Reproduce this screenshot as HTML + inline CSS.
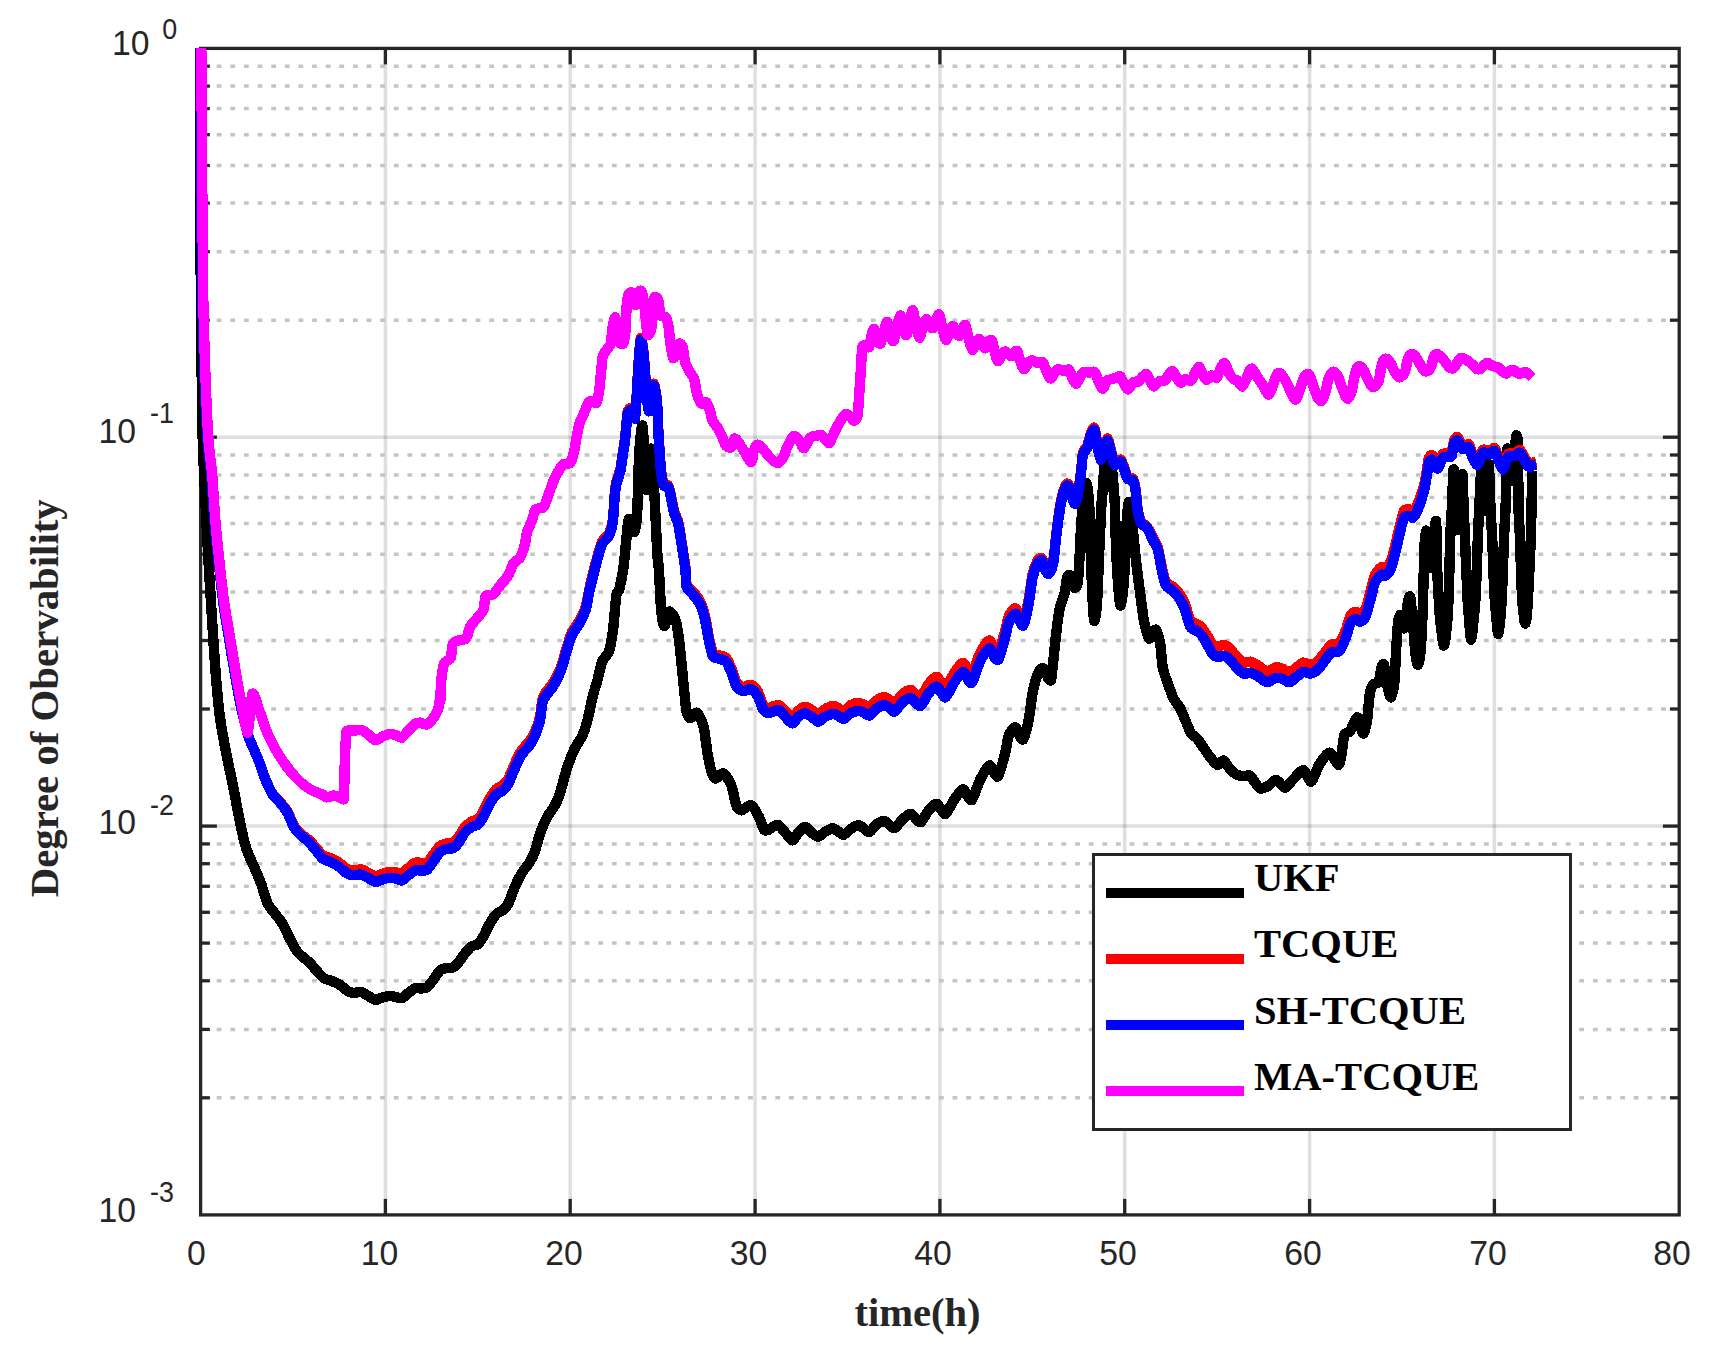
<!DOCTYPE html>
<html><head><meta charset="utf-8"><title>Degree of Observability</title>
<style>
html,body{margin:0;padding:0;background:#fff;}
body{width:1710px;height:1350px;overflow:hidden;}
svg{display:block;}
.tk{font-family:"Liberation Sans",Arial,sans-serif;font-size:35.9px;fill:#262626;}
.ex{font-family:"Liberation Sans",Arial,sans-serif;font-size:28.6px;fill:#262626;}
.lb{font-family:"Liberation Serif","Times New Roman",serif;font-weight:bold;fill:#262626;}
.lg{font-family:"Liberation Serif","Times New Roman",serif;font-weight:bold;font-size:40.6px;fill:#000;}
</style></head><body>
<svg width="1710" height="1350" viewBox="0 0 1710 1350">
<rect width="1710" height="1350" fill="#fff"/>
<defs><clipPath id="cp"><rect x="194.6" y="46.9" width="1490.6000000000001" height="1169.5"/></clipPath></defs>

<g id="grid">
<line x1="385.4" y1="48.4" x2="385.4" y2="1214.9" stroke="#262626" stroke-opacity="0.15" stroke-width="3.5"/>
<line x1="570.2" y1="48.4" x2="570.2" y2="1214.9" stroke="#262626" stroke-opacity="0.15" stroke-width="3.5"/>
<line x1="755.1" y1="48.4" x2="755.1" y2="1214.9" stroke="#262626" stroke-opacity="0.15" stroke-width="3.5"/>
<line x1="939.9" y1="48.4" x2="939.9" y2="1214.9" stroke="#262626" stroke-opacity="0.15" stroke-width="3.5"/>
<line x1="1124.7" y1="48.4" x2="1124.7" y2="1214.9" stroke="#262626" stroke-opacity="0.15" stroke-width="3.5"/>
<line x1="1309.6" y1="48.4" x2="1309.6" y2="1214.9" stroke="#262626" stroke-opacity="0.15" stroke-width="3.5"/>
<line x1="1494.4" y1="48.4" x2="1494.4" y2="1214.9" stroke="#262626" stroke-opacity="0.15" stroke-width="3.5"/>
<line x1="200.6" y1="437.2" x2="1679.2" y2="437.2" stroke="#262626" stroke-opacity="0.15" stroke-width="3.5"/>
<line x1="200.6" y1="826.1" x2="1679.2" y2="826.1" stroke="#262626" stroke-opacity="0.15" stroke-width="3.5"/>
<line x1="216.7" y1="320.2" x2="1667" y2="320.2" stroke="#c4c4c4" stroke-width="3.5" stroke-dasharray="4.8 8.826"/>
<line x1="216.7" y1="251.7" x2="1667" y2="251.7" stroke="#c4c4c4" stroke-width="3.5" stroke-dasharray="4.8 8.826"/>
<line x1="216.7" y1="203.1" x2="1667" y2="203.1" stroke="#c4c4c4" stroke-width="3.5" stroke-dasharray="4.8 8.826"/>
<line x1="216.7" y1="165.5" x2="1667" y2="165.5" stroke="#c4c4c4" stroke-width="3.5" stroke-dasharray="4.8 8.826"/>
<line x1="216.7" y1="134.7" x2="1667" y2="134.7" stroke="#c4c4c4" stroke-width="3.5" stroke-dasharray="4.8 8.826"/>
<line x1="216.7" y1="108.6" x2="1667" y2="108.6" stroke="#c4c4c4" stroke-width="3.5" stroke-dasharray="4.8 8.826"/>
<line x1="216.7" y1="86.1" x2="1667" y2="86.1" stroke="#c4c4c4" stroke-width="3.5" stroke-dasharray="4.8 8.826"/>
<line x1="216.7" y1="66.2" x2="1667" y2="66.2" stroke="#c4c4c4" stroke-width="3.5" stroke-dasharray="4.8 8.826"/>
<line x1="216.7" y1="709.0" x2="1667" y2="709.0" stroke="#c4c4c4" stroke-width="3.5" stroke-dasharray="4.8 8.826"/>
<line x1="216.7" y1="640.5" x2="1667" y2="640.5" stroke="#c4c4c4" stroke-width="3.5" stroke-dasharray="4.8 8.826"/>
<line x1="216.7" y1="592.0" x2="1667" y2="592.0" stroke="#c4c4c4" stroke-width="3.5" stroke-dasharray="4.8 8.826"/>
<line x1="216.7" y1="554.3" x2="1667" y2="554.3" stroke="#c4c4c4" stroke-width="3.5" stroke-dasharray="4.8 8.826"/>
<line x1="216.7" y1="523.5" x2="1667" y2="523.5" stroke="#c4c4c4" stroke-width="3.5" stroke-dasharray="4.8 8.826"/>
<line x1="216.7" y1="497.5" x2="1667" y2="497.5" stroke="#c4c4c4" stroke-width="3.5" stroke-dasharray="4.8 8.826"/>
<line x1="216.7" y1="474.9" x2="1667" y2="474.9" stroke="#c4c4c4" stroke-width="3.5" stroke-dasharray="4.8 8.826"/>
<line x1="216.7" y1="455.0" x2="1667" y2="455.0" stroke="#c4c4c4" stroke-width="3.5" stroke-dasharray="4.8 8.826"/>
<line x1="216.7" y1="1097.8" x2="1667" y2="1097.8" stroke="#c4c4c4" stroke-width="3.5" stroke-dasharray="4.8 8.826"/>
<line x1="216.7" y1="1029.4" x2="1667" y2="1029.4" stroke="#c4c4c4" stroke-width="3.5" stroke-dasharray="4.8 8.826"/>
<line x1="216.7" y1="980.8" x2="1667" y2="980.8" stroke="#c4c4c4" stroke-width="3.5" stroke-dasharray="4.8 8.826"/>
<line x1="216.7" y1="943.1" x2="1667" y2="943.1" stroke="#c4c4c4" stroke-width="3.5" stroke-dasharray="4.8 8.826"/>
<line x1="216.7" y1="912.3" x2="1667" y2="912.3" stroke="#c4c4c4" stroke-width="3.5" stroke-dasharray="4.8 8.826"/>
<line x1="216.7" y1="886.3" x2="1667" y2="886.3" stroke="#c4c4c4" stroke-width="3.5" stroke-dasharray="4.8 8.826"/>
<line x1="216.7" y1="863.7" x2="1667" y2="863.7" stroke="#c4c4c4" stroke-width="3.5" stroke-dasharray="4.8 8.826"/>
<line x1="216.7" y1="843.9" x2="1667" y2="843.9" stroke="#c4c4c4" stroke-width="3.5" stroke-dasharray="4.8 8.826"/>
</g>
<g id="axes" stroke="#262626" stroke-width="3.3" fill="none">
<rect x="200.6" y="48.4" width="1478.6000000000001" height="1166.5"/>
<line x1="385.4" y1="1214.9" x2="385.4" y2="1198.9"/>
<line x1="385.4" y1="48.4" x2="385.4" y2="64.4"/>
<line x1="570.2" y1="1214.9" x2="570.2" y2="1198.9"/>
<line x1="570.2" y1="48.4" x2="570.2" y2="64.4"/>
<line x1="755.1" y1="1214.9" x2="755.1" y2="1198.9"/>
<line x1="755.1" y1="48.4" x2="755.1" y2="64.4"/>
<line x1="939.9" y1="1214.9" x2="939.9" y2="1198.9"/>
<line x1="939.9" y1="48.4" x2="939.9" y2="64.4"/>
<line x1="1124.7" y1="1214.9" x2="1124.7" y2="1198.9"/>
<line x1="1124.7" y1="48.4" x2="1124.7" y2="64.4"/>
<line x1="1309.6" y1="1214.9" x2="1309.6" y2="1198.9"/>
<line x1="1309.6" y1="48.4" x2="1309.6" y2="64.4"/>
<line x1="1494.4" y1="1214.9" x2="1494.4" y2="1198.9"/>
<line x1="1494.4" y1="48.4" x2="1494.4" y2="64.4"/>
<line x1="200.6" y1="437.2" x2="216.9" y2="437.2"/>
<line x1="1679.2" y1="437.2" x2="1662.9" y2="437.2"/>
<line x1="200.6" y1="826.1" x2="216.9" y2="826.1"/>
<line x1="1679.2" y1="826.1" x2="1662.9" y2="826.1"/>
<line x1="200.6" y1="320.2" x2="209.9" y2="320.2"/>
<line x1="1679.2" y1="320.2" x2="1669.9" y2="320.2"/>
<line x1="200.6" y1="251.7" x2="209.9" y2="251.7"/>
<line x1="1679.2" y1="251.7" x2="1669.9" y2="251.7"/>
<line x1="200.6" y1="203.1" x2="209.9" y2="203.1"/>
<line x1="1679.2" y1="203.1" x2="1669.9" y2="203.1"/>
<line x1="200.6" y1="165.5" x2="209.9" y2="165.5"/>
<line x1="1679.2" y1="165.5" x2="1669.9" y2="165.5"/>
<line x1="200.6" y1="134.7" x2="209.9" y2="134.7"/>
<line x1="1679.2" y1="134.7" x2="1669.9" y2="134.7"/>
<line x1="200.6" y1="108.6" x2="209.9" y2="108.6"/>
<line x1="1679.2" y1="108.6" x2="1669.9" y2="108.6"/>
<line x1="200.6" y1="86.1" x2="209.9" y2="86.1"/>
<line x1="1679.2" y1="86.1" x2="1669.9" y2="86.1"/>
<line x1="200.6" y1="66.2" x2="209.9" y2="66.2"/>
<line x1="1679.2" y1="66.2" x2="1669.9" y2="66.2"/>
<line x1="200.6" y1="709.0" x2="209.9" y2="709.0"/>
<line x1="1679.2" y1="709.0" x2="1669.9" y2="709.0"/>
<line x1="200.6" y1="640.5" x2="209.9" y2="640.5"/>
<line x1="1679.2" y1="640.5" x2="1669.9" y2="640.5"/>
<line x1="200.6" y1="592.0" x2="209.9" y2="592.0"/>
<line x1="1679.2" y1="592.0" x2="1669.9" y2="592.0"/>
<line x1="200.6" y1="554.3" x2="209.9" y2="554.3"/>
<line x1="1679.2" y1="554.3" x2="1669.9" y2="554.3"/>
<line x1="200.6" y1="523.5" x2="209.9" y2="523.5"/>
<line x1="1679.2" y1="523.5" x2="1669.9" y2="523.5"/>
<line x1="200.6" y1="497.5" x2="209.9" y2="497.5"/>
<line x1="1679.2" y1="497.5" x2="1669.9" y2="497.5"/>
<line x1="200.6" y1="474.9" x2="209.9" y2="474.9"/>
<line x1="1679.2" y1="474.9" x2="1669.9" y2="474.9"/>
<line x1="200.6" y1="455.0" x2="209.9" y2="455.0"/>
<line x1="1679.2" y1="455.0" x2="1669.9" y2="455.0"/>
<line x1="200.6" y1="1097.8" x2="209.9" y2="1097.8"/>
<line x1="1679.2" y1="1097.8" x2="1669.9" y2="1097.8"/>
<line x1="200.6" y1="1029.4" x2="209.9" y2="1029.4"/>
<line x1="1679.2" y1="1029.4" x2="1669.9" y2="1029.4"/>
<line x1="200.6" y1="980.8" x2="209.9" y2="980.8"/>
<line x1="1679.2" y1="980.8" x2="1669.9" y2="980.8"/>
<line x1="200.6" y1="943.1" x2="209.9" y2="943.1"/>
<line x1="1679.2" y1="943.1" x2="1669.9" y2="943.1"/>
<line x1="200.6" y1="912.3" x2="209.9" y2="912.3"/>
<line x1="1679.2" y1="912.3" x2="1669.9" y2="912.3"/>
<line x1="200.6" y1="886.3" x2="209.9" y2="886.3"/>
<line x1="1679.2" y1="886.3" x2="1669.9" y2="886.3"/>
<line x1="200.6" y1="863.7" x2="209.9" y2="863.7"/>
<line x1="1679.2" y1="863.7" x2="1669.9" y2="863.7"/>
<line x1="200.6" y1="843.9" x2="209.9" y2="843.9"/>
<line x1="1679.2" y1="843.9" x2="1669.9" y2="843.9"/>
</g>
<g id="curves" shape-rendering="crispEdges" clip-path="url(#cp)" fill="none" stroke-width="10.4" stroke-linejoin="round" stroke-linecap="butt">
<path stroke="#000000" d="M200.0 48.4 C200.0 61.9 200.2 116.5 200.3 150.0 C200.4 183.5 200.6 268.2 200.8 300.0 C201.1 337.3 202.0 404.8 202.5 430.0 C203.0 455.2 204.1 473.5 204.8 489.3 C205.5 505.1 206.9 532.8 207.8 548.6 C208.7 564.4 210.3 592.1 211.3 607.9 C212.3 623.7 214.1 653.0 215.2 667.2 C216.3 681.4 218.2 703.5 219.6 714.6 C221.0 725.7 223.8 740.7 225.6 750.2 C227.4 759.7 231.0 775.8 233.0 785.7 C235.0 795.6 238.6 815.8 240.4 824.3 C242.2 832.8 244.7 843.7 246.6 849.5 C248.5 855.3 252.6 863.3 254.5 867.9 C256.4 872.5 259.4 879.0 261.1 883.7 C262.8 888.4 265.9 899.5 267.6 903.4 C269.3 907.3 272.3 910.0 274.2 912.6 C276.1 915.2 280.0 919.7 282.1 923.2 C284.2 926.7 288.1 935.2 290.0 938.9 C291.9 942.6 294.8 948.3 296.6 950.8 C298.4 953.3 301.5 955.8 303.2 957.4 C304.9 959.0 308.0 960.9 309.7 962.6 C311.4 964.3 314.4 968.4 316.3 970.5 C318.2 972.6 322.1 977.0 324.2 978.4 C326.3 979.8 330.0 980.2 332.1 981.1 C334.2 982.0 337.9 983.7 340.0 985.0 C342.1 986.3 346.1 990.0 347.9 991.1 C349.7 992.2 351.4 992.8 353.2 992.9 C355.0 993.0 359.0 991.6 361.1 992.1 C363.2 992.6 367.0 995.2 368.9 996.3 C370.8 997.4 373.7 999.8 375.5 1000.0 C377.3 1000.2 380.3 998.1 382.1 997.6 C383.9 997.1 386.9 996.2 388.7 996.1 C390.5 996.0 393.6 996.5 395.3 996.8 C397.0 997.1 400.1 998.7 401.8 998.2 C403.5 997.7 406.6 994.2 408.4 992.9 C410.2 991.6 413.2 989.0 415.0 988.4 C416.8 987.8 420.0 988.5 421.6 988.4 C423.2 988.3 425.4 988.6 426.8 987.6 C428.4 986.4 431.6 982.0 433.4 979.7 C435.2 977.4 438.2 972.1 440.0 970.5 C441.8 968.9 444.8 968.3 446.6 967.9 C448.4 967.5 451.6 968.1 453.2 967.4 C454.8 966.7 456.8 964.5 458.4 962.6 C460.0 960.7 463.2 955.6 465.0 953.4 C466.8 951.2 469.8 947.5 471.6 946.3 C473.4 945.1 476.6 945.5 478.2 944.2 C479.8 942.9 481.8 939.1 483.4 936.3 C485.0 933.5 488.2 926.2 490.0 923.2 C491.8 920.2 494.8 915.7 496.6 913.9 C498.4 912.1 501.6 911.4 503.2 910.0 C504.8 908.6 506.8 906.6 508.4 903.4 C510.0 900.2 513.2 890.3 515.0 886.3 C516.8 882.3 519.7 876.4 521.6 873.2 C523.5 870.0 527.8 865.4 529.5 862.6 C531.2 859.8 533.3 856.0 534.7 852.1 C536.1 848.2 538.4 838.3 540.0 833.7 C541.6 829.1 544.7 821.6 546.6 817.9 C548.5 814.2 552.8 809.3 554.5 806.1 C556.2 802.9 558.1 798.9 559.7 794.2 C561.3 789.5 564.4 776.5 566.3 770.5 C568.2 764.5 572.1 754.1 574.2 749.5 C576.3 744.9 580.3 740.2 582.1 736.3 C583.9 732.4 586.0 725.8 587.4 720.5 C588.8 715.2 591.3 702.1 592.6 696.8 C593.9 691.5 596.0 685.5 597.3 680.8 C598.6 676.1 600.6 665.5 602.1 661.6 C603.6 657.7 607.4 655.8 608.8 651.9 C610.2 648.0 611.9 637.8 612.7 632.7 C613.5 627.6 614.1 618.5 614.6 613.4 C615.1 608.3 615.9 597.2 616.5 594.1 C617.0 591.5 618.4 592.6 619.1 590.0 C620.0 586.6 622.4 574.5 623.3 568.9 C624.2 563.3 625.0 552.5 625.5 547.8 C626.0 543.1 626.5 537.6 626.9 533.7 C627.3 529.8 628.0 519.8 628.7 518.9 C629.4 518.0 631.1 525.0 631.8 526.7 C632.5 528.4 633.6 532.9 634.3 532.0 C635.0 531.1 636.2 524.1 636.7 519.6 C637.2 515.1 637.5 505.1 637.7 498.5 C637.9 491.9 638.2 477.9 638.5 470.4 C638.8 462.9 639.6 447.8 640.0 442.2 C640.4 436.6 641.3 430.4 641.6 428.2 C641.9 426.5 642.2 424.3 642.5 426.0 C642.8 427.9 643.5 437.2 643.9 442.2 C644.3 447.2 644.9 456.9 645.3 463.3 C645.7 469.7 646.5 490.1 647.0 490.1 C647.5 490.1 648.4 468.8 649.0 463.3 C649.6 457.8 650.7 447.7 651.2 448.6 C651.7 449.5 652.4 463.7 652.9 470.4 C653.4 477.1 654.2 491.0 654.6 498.5 C655.0 506.0 655.6 519.2 656.0 526.7 C656.4 534.2 657.0 549.1 657.4 554.8 C657.8 560.5 658.4 562.3 658.9 569.5 C659.4 576.7 660.4 601.4 661.1 608.9 C661.8 616.4 663.1 625.7 664.2 626.1 C665.3 626.5 667.9 612.1 669.5 611.6 C671.1 611.1 674.7 617.2 676.1 622.1 C677.5 627.0 679.0 639.6 680.0 648.4 C681.0 657.2 683.0 679.5 683.9 687.9 C684.8 696.3 685.7 707.6 686.6 711.6 C687.4 715.5 689.1 718.0 690.5 718.2 C691.9 718.4 695.3 711.7 697.1 712.9 C698.9 714.1 702.3 722.0 703.7 727.4 C705.1 732.8 706.5 747.7 707.6 753.7 C708.7 759.7 710.5 768.8 711.6 772.1 C712.7 775.4 713.9 778.5 715.5 778.7 C717.1 778.9 721.3 772.5 723.4 773.4 C725.5 774.3 729.5 780.9 731.3 785.3 C733.1 789.7 735.2 803.0 736.6 806.3 C737.7 808.9 739.9 810.5 741.8 810.3 C743.7 810.1 748.8 804.1 751.1 805.0 C753.4 805.9 757.2 813.5 758.9 816.8 C760.6 820.1 763.0 828.2 764.2 830.0 C764.6 830.6 766.7 830.6 768.2 830.0 C770.0 829.3 775.1 824.4 777.4 824.7 C779.7 825.0 783.3 830.5 785.3 832.6 C787.3 834.7 790.7 840.5 792.4 840.5 C794.1 840.5 796.7 834.4 798.4 832.6 C800.1 830.8 803.2 826.8 805.0 826.8 C806.8 826.8 809.8 831.3 811.6 832.6 C813.4 833.9 816.5 836.7 818.2 836.6 C819.9 836.5 822.8 833.2 824.7 832.1 C826.6 831.0 830.8 828.3 832.6 828.2 C834.4 828.1 836.4 830.4 837.9 831.3 C839.4 832.2 841.9 835.0 843.7 834.7 C845.5 834.4 849.1 830.0 851.1 828.7 C853.1 827.4 857.2 825.3 858.9 825.3 C860.6 825.3 862.8 827.8 864.2 828.7 C865.6 829.6 867.9 832.6 869.5 832.1 C871.1 831.6 874.2 826.2 876.1 824.7 C878.0 823.2 882.2 820.8 883.9 820.8 C885.6 820.8 887.8 823.7 889.2 824.7 C890.6 825.7 892.7 828.9 894.5 828.2 C896.3 827.5 900.3 821.4 902.4 819.5 C904.5 817.6 908.6 813.9 910.3 813.7 C912.0 813.5 914.1 817.1 915.5 818.2 C916.9 819.3 919.0 823.2 920.8 822.1 C922.6 821.0 926.6 812.8 928.7 810.3 C930.8 807.8 934.9 803.7 936.6 803.7 C938.3 803.7 940.6 809.0 941.8 810.3 C943.0 811.6 944.0 815.3 945.8 813.7 C947.6 812.1 952.7 801.7 955.0 798.4 C957.3 795.1 961.1 789.4 962.9 789.2 C964.7 789.0 967.0 795.7 968.2 797.1 C969.4 798.5 970.8 801.6 972.1 799.7 C973.7 797.4 977.7 784.6 980.0 780.0 C982.3 775.4 987.3 766.4 989.2 765.5 C991.1 764.6 993.3 772.0 994.5 773.4 C995.7 774.8 997.4 778.1 998.4 776.1 C999.8 773.5 1003.6 759.1 1005.0 753.7 C1006.4 748.3 1007.5 738.8 1008.9 735.3 C1010.3 731.8 1013.9 727.1 1015.5 727.4 C1017.1 727.7 1019.7 736.3 1020.8 737.9 C1021.6 739.1 1022.9 740.5 1023.4 739.2 C1024.5 736.7 1027.5 725.6 1028.7 719.5 C1029.9 713.4 1031.4 699.3 1032.6 693.2 C1033.8 687.1 1036.5 676.7 1037.9 673.4 C1039.3 670.2 1041.8 667.5 1043.2 668.2 C1044.6 668.9 1047.3 677.1 1048.4 678.7 C1049.2 680.0 1050.9 681.2 1051.1 680.0 C1052.1 674.4 1054.7 646.3 1055.8 637.0 C1056.9 627.7 1058.1 616.5 1059.3 610.6 C1060.5 604.7 1063.5 597.5 1064.6 593.1 C1065.7 588.7 1066.5 579.6 1067.2 577.3 C1067.6 575.8 1068.9 574.1 1069.8 575.5 C1070.7 576.9 1073.1 586.9 1074.2 587.8 C1075.3 588.7 1077.1 585.8 1077.7 582.6 C1078.4 578.6 1079.0 566.0 1079.5 558.0 C1080.0 550.0 1080.7 531.8 1081.3 522.9 C1081.9 514.0 1083.2 496.6 1083.9 491.3 C1084.5 486.8 1085.8 481.5 1086.5 483.4 C1087.2 485.3 1088.6 495.4 1089.2 505.3 C1089.8 515.2 1090.4 545.1 1090.9 558.0 C1091.4 570.9 1092.2 593.5 1092.7 601.9 C1093.2 610.3 1093.8 621.2 1094.4 621.2 C1095.0 621.2 1096.4 612.1 1097.1 601.9 C1097.8 591.1 1099.1 553.3 1099.7 540.4 C1100.3 527.5 1101.0 512.0 1101.4 505.3 C1101.8 498.6 1102.4 494.5 1102.7 490.1 C1103.0 485.7 1103.6 475.8 1103.9 472.0 C1104.2 468.2 1104.8 461.6 1105.1 461.8 C1105.4 462.0 1106.0 470.4 1106.4 473.7 C1106.8 477.0 1107.4 486.9 1107.8 486.9 C1108.2 486.9 1108.8 477.0 1109.2 473.7 C1109.6 470.4 1110.3 462.0 1110.7 461.8 C1111.1 461.6 1111.9 468.2 1112.3 472.0 C1112.7 475.8 1113.5 485.2 1113.9 490.1 C1114.3 495.0 1114.7 502.1 1115.0 508.8 C1115.3 515.5 1115.4 530.7 1115.8 540.4 C1116.2 550.5 1117.4 575.6 1118.1 584.3 C1118.8 593.0 1119.9 606.6 1120.7 605.4 C1121.5 604.2 1123.6 585.3 1124.3 575.5 C1125.0 565.7 1125.4 541.5 1126.0 531.7 C1126.6 521.9 1127.8 503.0 1128.6 501.8 C1129.4 500.6 1131.3 515.4 1132.2 522.9 C1133.1 530.4 1134.6 548.6 1135.7 558.0 C1136.8 567.4 1139.0 584.9 1140.1 593.1 C1141.2 601.3 1143.1 615.9 1143.6 619.4 C1143.6 619.4 1143.6 619.2 1143.6 619.2 C1144.3 621.7 1147.2 637.1 1148.8 638.5 C1150.4 639.9 1154.4 629.0 1155.9 629.7 C1157.4 630.4 1159.3 638.6 1160.2 643.7 C1161.1 648.8 1161.8 662.9 1162.9 668.3 C1164.0 673.7 1166.7 680.1 1168.1 684.1 C1169.5 688.1 1171.8 694.8 1173.4 698.1 C1175.0 701.4 1178.8 705.6 1180.4 708.7 C1182.0 711.8 1184.3 717.7 1185.7 721.0 C1187.1 724.3 1189.5 731.0 1191.0 733.3 C1192.5 735.6 1195.5 736.6 1197.1 738.5 C1198.7 740.4 1201.7 745.0 1203.3 747.3 C1204.9 749.6 1207.5 753.8 1209.4 756.1 C1211.3 758.4 1215.4 764.3 1217.3 764.9 C1219.2 765.5 1221.8 760.0 1223.4 760.5 C1225.0 761.0 1228.1 766.7 1229.6 768.4 C1231.1 770.1 1233.0 772.5 1234.9 773.6 C1236.8 774.7 1241.6 776.1 1243.6 776.3 C1245.6 776.5 1248.3 774.6 1249.8 775.4 C1251.3 776.2 1253.6 780.7 1255.0 782.4 C1256.4 784.1 1258.5 788.0 1260.3 788.5 C1262.1 789.0 1266.1 787.1 1268.2 785.9 C1270.3 784.7 1273.9 779.6 1276.1 779.8 C1278.3 780.0 1282.7 787.7 1284.9 787.7 C1287.1 787.7 1290.3 782.1 1292.8 779.8 C1295.3 777.5 1300.8 769.9 1303.3 770.1 C1305.8 770.3 1309.1 782.2 1311.2 781.5 C1313.3 780.8 1316.6 768.8 1319.1 764.9 C1321.6 761.0 1327.0 752.6 1329.6 752.6 C1332.2 752.6 1336.8 764.9 1338.4 764.9 C1340.0 764.9 1341.0 756.6 1341.8 752.6 C1342.6 748.6 1343.3 737.8 1344.4 735.0 C1345.3 732.6 1348.4 733.1 1349.7 731.5 C1351.0 729.9 1353.0 724.6 1354.1 722.7 C1355.2 720.8 1356.7 716.8 1357.6 717.5 C1358.5 718.2 1360.3 725.9 1361.1 728.0 C1361.9 730.1 1362.9 734.5 1363.7 733.3 C1364.5 732.1 1366.4 724.6 1367.2 719.2 C1368.0 713.8 1369.1 697.6 1369.9 692.9 C1370.7 688.2 1372.2 685.5 1373.4 684.1 C1374.6 682.7 1377.8 683.8 1378.6 682.3 C1379.7 680.2 1380.6 670.6 1381.3 668.3 C1382.0 666.0 1383.1 662.5 1383.9 664.8 C1384.7 667.1 1386.5 681.6 1387.4 685.9 C1388.3 690.2 1390.0 697.8 1390.9 697.3 C1391.8 696.8 1393.7 688.7 1394.4 682.3 C1395.1 675.9 1395.7 656.9 1396.2 649.0 C1396.7 641.1 1397.5 627.3 1398.0 622.7 C1398.5 618.1 1399.6 614.8 1400.2 614.8 C1400.8 614.8 1401.8 620.9 1402.3 622.7 C1402.8 624.5 1403.6 628.5 1404.1 628.3 C1404.6 628.1 1405.4 624.5 1405.9 620.9 C1406.4 617.3 1407.4 604.8 1408.0 601.6 C1408.5 598.8 1409.5 594.4 1410.2 597.2 C1410.9 600.0 1412.2 615.1 1412.9 622.7 C1413.6 630.3 1414.8 648.7 1415.5 654.3 C1416.2 659.9 1417.4 665.5 1418.1 664.8 C1418.8 664.1 1420.2 657.0 1420.8 649.0 C1421.4 641.0 1422.4 618.4 1422.9 605.1 C1423.4 591.8 1423.9 559.1 1424.3 549.2 C1424.7 539.4 1425.4 531.4 1426.0 530.8 C1426.6 530.2 1427.9 540.0 1428.6 545.0 C1429.3 550.0 1430.4 568.0 1431.0 568.0 C1431.6 568.0 1432.8 550.9 1433.4 545.0 C1434.0 539.1 1435.0 527.2 1435.3 524.0 C1435.5 522.0 1435.8 519.8 1436.0 521.3 C1436.2 522.8 1436.5 530.5 1436.6 535.0 C1436.7 539.5 1436.8 549.7 1436.9 555.0 C1437.0 560.3 1437.2 569.6 1437.4 575.0 C1437.8 582.7 1439.0 605.0 1439.6 613.0 C1440.2 621.0 1441.4 630.7 1442.0 635.0 C1442.6 639.3 1443.4 647.4 1444.1 645.3 C1444.8 643.2 1446.9 626.0 1447.5 618.9 C1448.1 611.8 1448.4 602.9 1448.8 592.2 C1449.2 581.5 1449.8 550.0 1450.2 538.9 C1450.6 527.8 1451.4 516.5 1451.8 508.9 C1452.2 501.3 1452.6 487.5 1452.9 482.2 C1453.2 476.9 1453.4 467.8 1453.8 469.5 C1454.2 471.2 1455.1 487.0 1455.6 495.0 C1456.1 503.0 1457.2 529.2 1457.8 529.6 C1458.4 530.0 1459.6 505.4 1460.2 498.0 C1460.8 490.6 1462.0 475.9 1462.4 474.3 C1462.7 473.0 1462.8 481.4 1463.0 486.0 C1463.2 490.6 1463.4 501.8 1463.7 508.9 C1464.0 516.0 1464.5 527.8 1465.0 538.9 C1465.5 550.0 1466.7 581.5 1467.2 592.2 C1467.7 602.9 1468.5 612.6 1469.0 618.9 C1469.5 625.2 1470.5 639.6 1471.1 639.6 C1471.7 639.6 1473.1 625.2 1473.7 618.9 C1474.3 612.6 1475.4 602.9 1475.9 592.2 C1476.4 581.5 1477.4 550.0 1477.8 538.9 C1478.2 527.8 1478.8 516.5 1479.2 508.9 C1479.6 501.3 1480.2 488.1 1480.5 482.2 C1480.8 476.3 1481.2 464.2 1481.6 465.0 C1482.0 465.8 1482.8 481.9 1483.2 488.0 C1483.6 494.1 1484.4 511.0 1484.9 511.0 C1485.4 511.0 1486.3 494.3 1486.8 488.0 C1487.3 481.7 1488.2 464.8 1488.6 464.0 C1489.0 463.2 1489.4 476.2 1489.7 482.2 C1490.0 488.2 1490.2 501.3 1490.5 508.9 C1490.8 516.5 1491.7 527.8 1492.2 538.9 C1492.7 550.0 1493.7 581.5 1494.3 592.2 C1494.9 602.9 1496.0 613.3 1496.5 618.9 C1497.0 624.5 1497.7 633.9 1498.2 633.9 C1498.7 633.9 1499.8 624.5 1500.3 618.9 C1500.8 613.3 1501.6 602.9 1502.1 592.2 C1502.6 581.5 1503.5 550.0 1504.0 538.9 C1504.5 527.8 1505.2 516.5 1505.5 508.9 C1505.8 501.3 1506.2 488.7 1506.3 482.2 C1506.4 475.7 1506.4 463.9 1506.6 460.0 C1506.8 455.5 1507.2 447.8 1507.6 448.5 C1508.0 449.2 1509.2 460.6 1509.8 465.0 C1510.4 469.4 1511.4 482.1 1512.0 481.2 C1512.6 480.3 1513.6 464.0 1514.2 458.0 C1514.8 452.0 1515.7 438.5 1516.2 436.1 C1516.7 433.7 1517.4 437.4 1517.6 440.0 C1517.9 443.2 1518.2 454.4 1518.3 460.0 C1518.3 460.0 1518.3 482.2 1518.3 482.2 C1518.3 488.7 1518.4 505.6 1518.5 508.9 C1518.7 516.5 1519.6 527.8 1520.0 538.9 C1520.4 550.0 1521.3 581.5 1521.8 592.2 C1522.3 602.9 1523.6 614.7 1524.1 618.9 C1524.4 621.9 1525.0 623.6 1525.3 623.6 C1525.6 623.6 1526.2 621.9 1526.5 618.9 C1526.9 614.7 1527.7 602.9 1528.3 592.2 C1528.9 581.5 1530.4 550.0 1530.8 538.9 C1531.2 529.8 1531.3 516.5 1531.5 508.9 C1531.7 501.3 1531.9 487.1 1532.0 482.0 C1532.1 476.9 1532.2 472.5 1532.2 471.0"/>
<path stroke="#ff0000" d="M200.3 48.4 C200.4 61.9 200.7 116.5 201.0 150.0 C201.3 183.5 201.7 269.2 202.3 300.0 C203.1 337.3 205.7 406.7 206.9 430.0 C208.1 452.9 210.3 462.6 211.3 474.5 C212.3 486.4 213.3 507.0 214.3 518.9 C215.3 530.8 217.6 552.3 218.8 563.4 C220.0 574.5 221.9 592.0 223.2 601.9 C224.5 611.8 227.3 628.0 228.8 637.5 C230.3 647.0 233.2 664.0 234.8 673.1 C236.4 682.2 239.0 697.8 240.7 705.7 C242.4 713.6 245.9 727.6 247.2 732.4 C248.5 737.2 249.0 737.9 250.5 741.6 C252.0 745.3 256.5 755.0 258.4 759.9 C260.3 764.8 263.2 773.8 265.0 778.1 C266.8 782.4 269.7 789.3 271.6 792.4 C273.5 795.5 277.4 798.8 279.5 801.3 C281.6 803.8 285.5 808.2 287.4 811.5 C289.3 814.8 292.2 822.9 293.9 825.8 C295.6 828.7 298.6 831.7 300.5 833.5 C302.4 835.3 306.3 837.6 308.4 839.5 C310.5 841.4 314.4 845.9 316.3 848.0 C318.2 850.1 321.0 854.0 322.9 855.4 C324.8 856.8 328.7 857.3 330.8 858.2 C332.9 859.1 336.6 861.0 338.7 862.4 C340.8 863.8 344.7 867.6 346.6 868.7 C348.5 869.8 351.3 870.4 353.2 870.5 C355.1 870.6 359.0 869.1 361.1 869.4 C363.2 869.7 367.0 872.2 368.9 873.1 C370.8 874.0 373.7 876.2 375.5 876.3 C377.3 876.4 380.3 874.5 382.1 873.9 C383.9 873.3 386.9 872.2 388.7 871.9 C390.5 871.6 393.6 871.8 395.3 872.0 C397.0 872.2 400.1 874.1 401.8 873.6 C403.5 873.1 406.6 869.4 408.4 868.0 C410.2 866.6 413.2 863.5 415.0 862.8 C416.5 862.2 420.0 862.8 421.6 862.8 C423.2 862.8 425.9 863.4 426.8 862.8 C428.4 861.7 431.6 856.9 433.4 854.7 C435.2 852.5 438.2 847.6 440.0 846.1 C441.8 844.6 444.8 843.8 446.6 843.3 C448.4 842.8 451.6 843.4 453.2 842.6 C454.8 841.8 456.8 839.5 458.4 837.4 C460.0 835.3 463.2 829.0 465.0 826.9 C466.8 824.8 469.8 822.7 471.6 821.6 C473.4 820.5 476.6 820.4 478.2 819.0 C479.8 817.6 481.8 813.9 483.4 811.1 C485.0 808.3 488.2 800.9 490.0 797.9 C491.8 794.9 494.8 790.4 496.6 788.7 C498.4 787.0 501.6 786.4 503.2 785.1 C504.8 783.8 506.8 781.6 508.4 778.7 C510.0 775.8 513.2 767.0 515.0 763.2 C516.8 759.4 519.7 753.2 521.6 750.3 C523.5 747.4 527.8 743.8 529.5 741.4 C531.2 739.0 533.3 735.8 534.7 732.5 C536.1 729.2 538.9 721.8 540.0 717.0 C541.1 712.2 541.6 700.9 543.3 696.6 C545.0 692.1 550.6 687.1 552.9 683.3 C555.2 679.5 558.9 672.6 560.7 668.0 C562.5 663.4 564.9 653.7 566.4 648.8 C567.9 643.9 570.4 635.4 572.2 631.6 C574.0 627.8 578.1 623.5 579.9 620.2 C581.7 616.9 584.4 611.2 585.7 606.9 C587.0 602.6 588.6 592.3 589.6 587.7 C590.6 583.1 592.4 576.5 593.4 572.4 C594.4 568.3 596.1 561.2 597.3 557.1 C598.5 553.0 600.6 544.8 602.1 541.7 C603.6 538.6 607.4 536.9 608.8 534.1 C610.2 531.3 611.9 525.8 612.7 520.7 C613.5 515.6 614.1 500.7 614.6 495.6 C615.1 490.5 615.5 485.9 616.3 482.3 C617.1 478.7 619.7 472.0 620.5 468.3 C621.3 464.6 622.0 458.0 622.6 454.2 C623.2 450.4 624.3 443.8 624.8 440.1 C625.3 436.4 625.8 429.8 626.2 426.1 C626.6 422.4 627.0 414.4 627.6 412.0 C628.2 409.6 629.8 407.7 630.8 408.3 C631.8 408.9 634.2 418.6 635.0 416.3 C635.8 414.0 636.4 399.0 636.9 390.9 C637.4 382.8 638.4 362.9 639.0 355.8 C639.6 348.7 640.4 337.9 641.1 337.9 C641.8 337.9 643.2 348.7 643.9 355.8 C644.6 362.9 645.8 383.8 646.4 390.9 C647.0 398.0 648.1 408.8 648.7 409.4 C649.3 410.0 650.4 398.8 651.1 395.4 C651.8 392.0 653.0 382.8 653.8 383.7 C654.6 384.6 656.5 395.9 657.1 402.5 C657.7 409.1 658.1 426.6 658.5 433.5 C658.9 440.4 659.5 449.3 659.9 454.6 C660.3 459.9 660.7 468.9 661.3 472.9 C661.9 476.9 663.3 482.6 664.2 484.3 C664.9 485.6 667.7 484.4 668.4 485.7 C669.3 487.4 670.5 493.6 671.2 497.0 C671.9 500.4 673.1 507.7 674.0 511.0 C674.9 514.3 677.3 518.3 678.2 522.0 C679.1 525.7 680.4 534.6 681.1 538.7 C681.8 542.8 682.6 548.8 683.2 552.5 C683.8 556.2 684.8 562.3 685.3 566.5 C685.8 570.7 686.0 581.7 686.6 584.1 C687.5 587.3 690.1 588.2 691.8 590.4 C693.5 592.6 697.9 597.1 699.7 600.6 C701.5 604.1 703.8 611.4 705.0 616.3 C706.2 621.2 707.8 632.3 708.9 637.2 C710.0 642.1 711.5 650.5 712.9 652.9 C714.0 654.8 717.7 654.7 719.5 655.4 C721.3 656.1 724.5 656.2 726.1 657.9 C727.7 659.6 729.9 664.9 731.3 668.2 C732.7 671.5 735.0 680.1 736.6 682.6 C738.2 685.1 741.3 686.6 743.2 686.9 C745.1 687.2 749.2 684.2 751.1 684.8 C753.0 685.4 756.0 688.6 757.6 691.2 C759.2 693.8 761.5 701.9 762.9 704.1 C764.3 706.3 766.1 707.8 768.2 707.9 C770.3 708.0 776.4 704.6 778.7 705.0 C781.0 705.4 783.5 709.5 785.3 711.2 C787.1 712.9 790.7 717.6 792.4 717.5 C794.1 717.4 796.7 712.0 798.4 710.6 C800.1 709.2 803.2 706.9 805.0 706.8 C806.8 706.7 809.8 708.9 811.6 709.9 C813.4 710.9 816.5 714.5 818.2 714.4 C819.9 714.3 822.8 710.4 824.7 709.3 C826.6 708.2 830.8 706.2 832.6 706.0 C834.4 705.8 836.4 706.9 837.9 707.6 C839.4 708.3 841.9 711.4 843.7 711.0 C845.5 710.6 849.1 706.0 851.1 704.9 C853.1 703.8 857.2 703.1 858.9 703.1 C860.6 703.1 862.8 704.3 864.2 704.9 C865.6 705.5 867.9 708.0 869.5 707.5 C871.1 707.0 874.2 702.3 876.1 700.9 C878.0 699.5 882.2 697.2 883.9 697.0 C885.6 696.8 887.8 698.6 889.2 699.5 C890.6 700.4 892.7 704.2 894.5 703.5 C896.3 702.8 900.3 696.1 902.4 694.3 C904.5 692.5 908.6 689.9 910.3 689.8 C912.0 689.7 914.1 692.9 915.5 693.9 C916.9 694.9 919.0 698.3 920.8 697.0 C922.6 695.7 926.6 686.5 928.7 683.8 C930.8 681.1 934.9 676.7 936.6 676.7 C938.3 676.7 940.6 682.1 941.8 683.5 C943.0 684.9 944.0 689.0 945.8 687.5 C947.6 686.0 952.7 675.2 955.0 671.9 C957.3 668.6 961.1 663.0 962.9 662.9 C964.7 662.8 967.0 669.6 968.2 671.1 C969.4 672.6 970.8 675.7 972.1 673.8 C973.7 671.4 977.7 657.7 980.0 653.2 C982.3 648.7 987.3 640.8 989.2 640.4 C991.1 640.0 993.3 648.5 994.5 650.1 C995.7 651.7 997.4 654.1 998.4 652.4 C999.8 649.9 1003.6 636.3 1005.0 631.4 C1006.4 626.5 1007.5 619.1 1008.9 616.0 C1010.3 612.9 1013.9 607.9 1015.5 608.3 C1017.1 608.7 1019.7 617.0 1020.8 618.7 C1021.9 620.4 1022.7 622.6 1023.4 620.9 C1024.5 618.4 1027.5 606.1 1028.7 599.9 C1029.9 593.7 1031.4 579.4 1032.6 574.1 C1033.8 568.8 1036.7 562.3 1037.9 560.2 C1038.8 558.6 1040.9 557.3 1041.8 558.1 C1042.7 558.9 1043.5 564.5 1044.4 566.3 C1045.3 568.1 1047.6 572.4 1048.8 571.7 C1050.0 571.0 1052.3 565.7 1053.2 561.2 C1054.1 556.7 1055.1 544.2 1055.8 538.3 C1056.5 532.4 1057.6 522.9 1058.4 517.3 C1059.2 511.7 1061.0 500.4 1061.9 496.2 C1062.8 492.0 1064.7 487.4 1065.5 485.8 C1066.3 484.3 1067.2 482.6 1068.1 484.0 C1069.0 485.4 1071.6 494.0 1072.5 496.3 C1073.4 498.6 1074.3 502.5 1075.1 501.6 C1075.9 500.7 1077.8 493.8 1078.6 489.3 C1079.4 484.8 1080.7 473.1 1081.3 468.2 C1081.9 463.3 1082.2 455.4 1083.0 452.4 C1083.8 449.4 1086.3 448.0 1087.4 445.4 C1088.5 442.8 1090.0 435.4 1090.9 433.1 C1091.8 430.8 1093.6 426.6 1094.4 427.8 C1095.2 429.0 1096.3 437.9 1097.1 441.9 C1097.9 445.9 1099.7 456.8 1100.6 457.7 C1101.5 458.6 1103.2 451.5 1104.1 448.9 C1105.0 446.3 1106.7 438.2 1107.6 438.4 C1108.5 438.6 1110.2 447.4 1111.1 450.7 C1112.0 454.0 1113.3 461.8 1114.6 463.0 C1115.9 464.2 1119.4 458.8 1120.7 459.5 C1122.0 460.2 1123.4 465.9 1124.3 468.3 C1125.2 470.7 1126.6 475.8 1127.8 477.2 C1129.0 478.6 1132.0 477.5 1133.0 479.0 C1134.1 480.7 1135.1 485.9 1135.7 489.6 C1136.3 493.3 1136.7 502.9 1137.4 507.1 C1138.1 511.3 1139.6 518.7 1140.9 521.3 C1142.2 523.9 1145.6 524.5 1147.1 526.6 C1148.6 528.7 1150.9 534.0 1152.3 536.7 C1153.7 539.4 1156.5 543.8 1157.6 546.7 C1158.7 549.6 1159.5 555.3 1160.2 558.7 C1160.9 562.1 1162.1 569.3 1162.9 572.5 C1163.7 575.7 1165.0 580.7 1166.4 582.7 C1167.8 584.7 1171.5 585.5 1173.4 587.2 C1175.3 588.9 1178.9 592.9 1180.4 595.1 C1181.9 597.3 1183.7 600.7 1184.8 603.4 C1185.9 606.1 1187.5 612.8 1188.3 615.2 C1189.1 617.6 1189.9 620.5 1191.0 621.6 C1192.1 622.7 1194.8 622.8 1196.2 623.6 C1197.6 624.4 1200.1 625.8 1201.5 627.3 C1202.9 628.8 1205.3 632.8 1206.8 635.1 C1208.3 637.4 1211.4 643.3 1212.9 644.8 C1214.4 646.3 1216.7 646.6 1218.2 646.6 C1219.7 646.6 1222.8 644.7 1224.3 645.0 C1225.8 645.3 1228.0 647.0 1229.6 648.5 C1231.2 650.0 1234.7 654.5 1236.6 656.4 C1238.5 658.3 1241.7 661.9 1243.6 662.6 C1245.5 663.3 1248.7 661.3 1250.6 661.7 C1252.5 662.1 1255.5 664.0 1257.7 665.3 C1259.9 666.6 1265.0 671.3 1267.3 671.6 C1269.6 671.9 1273.2 667.9 1275.2 667.5 C1277.2 667.1 1280.3 667.9 1282.2 668.6 C1284.1 669.3 1287.4 672.6 1289.3 672.5 C1291.2 672.4 1294.4 668.9 1296.3 667.6 C1298.2 666.3 1301.4 663.0 1303.3 662.6 C1305.2 662.2 1308.4 664.8 1310.3 664.7 C1312.2 664.6 1315.5 663.1 1317.4 661.5 C1319.3 659.9 1322.5 655.3 1324.4 653.0 C1326.3 650.7 1329.5 645.7 1331.4 644.5 C1332.8 643.5 1337.0 644.5 1338.4 643.8 C1339.8 643.1 1340.8 641.5 1341.8 639.5 C1342.8 637.5 1345.0 632.3 1346.2 629.1 C1347.4 625.9 1349.3 617.6 1350.6 615.3 C1351.9 613.0 1354.5 612.0 1355.8 611.9 C1357.1 611.8 1358.9 614.9 1360.2 614.5 C1361.5 614.1 1364.2 611.8 1365.5 609.1 C1366.8 606.4 1368.7 598.5 1369.9 594.2 C1371.1 589.9 1373.5 579.4 1374.3 576.6 C1375.0 574.4 1375.2 574.4 1376.0 573.3 C1376.9 572.0 1380.0 567.9 1381.3 567.2 C1382.6 566.5 1384.4 568.9 1385.7 568.1 C1387.0 567.3 1389.6 564.2 1390.9 561.2 C1392.2 558.2 1394.1 550.2 1395.3 545.5 C1396.5 540.8 1398.5 531.0 1399.7 526.3 C1400.9 521.6 1402.8 512.9 1404.1 510.6 C1404.8 509.4 1408.2 509.2 1409.4 509.3 C1410.6 509.4 1411.7 512.1 1412.9 511.3 C1414.1 510.5 1416.7 506.1 1418.1 503.0 C1419.5 499.9 1422.2 492.1 1423.4 487.8 C1424.6 483.5 1426.2 474.5 1426.9 470.6 C1427.6 466.7 1428.0 460.5 1428.7 458.5 C1429.4 456.5 1431.0 454.5 1432.2 455.3 C1433.4 456.1 1436.1 464.6 1437.5 464.4 C1438.9 464.2 1441.3 455.6 1442.7 454.1 C1443.6 453.2 1446.8 453.7 1448.0 453.5 C1449.2 453.3 1451.1 453.8 1451.5 452.8 C1452.3 451.1 1453.3 442.7 1454.1 440.6 C1454.9 438.5 1456.4 436.6 1457.6 437.3 C1458.8 438.0 1461.4 445.3 1462.9 446.2 C1464.4 447.1 1467.8 443.2 1469.1 444.4 C1470.4 445.6 1471.4 452.6 1472.6 455.0 C1473.8 457.4 1476.4 462.8 1477.8 462.1 C1479.2 461.4 1481.7 451.3 1483.1 449.9 C1484.5 448.5 1486.9 451.8 1488.4 451.6 C1489.9 451.4 1493.1 447.2 1494.5 448.1 C1495.9 449.0 1497.7 456.1 1498.9 458.6 C1500.1 461.1 1502.0 467.3 1503.3 466.6 C1504.6 465.9 1507.0 455.2 1508.5 453.5 C1509.0 452.9 1513.2 454.0 1514.7 453.5 C1516.2 453.0 1518.6 449.3 1520.0 450.0 C1521.4 450.7 1524.0 456.8 1525.2 458.7 C1526.4 460.6 1527.6 463.5 1528.7 464.0 C1529.8 464.5 1532.1 462.9 1533.1 462.6 C1534.1 462.3 1535.7 461.6 1536.1 461.5"/>
<path stroke="#0000ff" d="M200.3 48.4 C200.4 61.9 200.7 116.5 201.0 150.0 C201.3 183.5 201.7 269.2 202.3 300.0 C203.1 337.3 205.7 406.7 206.9 430.0 C208.1 452.9 210.3 462.6 211.3 474.5 C212.3 486.4 213.3 507.0 214.3 518.9 C215.3 530.8 217.6 552.3 218.8 563.4 C220.0 574.5 221.9 592.0 223.2 601.9 C224.5 611.8 227.3 628.0 228.8 637.5 C230.3 647.0 233.2 664.0 234.8 673.1 C236.4 682.2 239.0 697.8 240.7 705.7 C242.4 713.6 245.9 727.6 247.2 732.4 C248.5 737.2 249.0 737.9 250.5 741.6 C252.0 745.3 256.5 755.1 258.4 760.0 C260.3 764.9 263.2 774.0 265.0 778.4 C266.8 782.8 269.7 789.7 271.6 792.9 C273.5 796.1 277.4 799.5 279.5 802.1 C281.6 804.7 285.5 809.3 287.4 812.6 C289.3 815.9 292.2 824.1 293.9 827.1 C295.6 830.1 298.6 833.1 300.5 835.0 C302.4 836.9 306.3 839.5 308.4 841.6 C310.5 843.7 314.4 848.5 316.3 850.8 C318.2 853.1 321.0 857.2 322.9 858.7 C324.8 860.2 328.7 861.0 330.8 862.1 C332.9 863.2 336.6 865.1 338.7 866.6 C340.8 868.1 344.7 872.0 346.6 873.2 C348.5 874.4 351.3 875.1 353.2 875.3 C355.1 875.5 359.0 874.1 361.1 874.5 C363.2 874.9 367.0 877.4 368.9 878.4 C370.8 879.4 373.7 881.6 375.5 881.8 C377.3 882.0 380.3 880.2 382.1 879.7 C383.9 879.2 386.9 878.1 388.7 877.9 C390.5 877.7 393.6 878.1 395.3 878.4 C397.0 878.7 400.1 880.9 401.8 880.5 C403.5 880.1 406.6 876.6 408.4 875.3 C410.2 874.0 413.2 871.1 415.0 870.5 C416.7 869.9 420.0 870.6 421.6 870.5 C423.2 870.4 425.7 870.9 426.8 870.0 C428.4 868.8 431.6 863.7 433.4 861.3 C435.2 858.9 438.2 853.8 440.0 852.1 C441.8 850.4 444.8 849.4 446.6 848.9 C448.4 848.4 451.6 849.0 453.2 848.2 C454.8 847.4 456.8 845.0 458.4 842.9 C460.0 840.8 463.2 834.5 465.0 832.4 C466.8 830.3 469.8 828.2 471.6 827.1 C473.4 826.0 476.6 825.9 478.2 824.5 C479.8 823.1 481.8 819.4 483.4 816.6 C485.0 813.8 488.2 806.4 490.0 803.4 C491.8 800.4 494.8 795.9 496.6 794.2 C498.4 792.5 501.6 791.7 503.2 790.3 C504.8 788.9 506.8 786.7 508.4 783.7 C510.0 780.7 513.2 771.8 515.0 767.9 C516.8 764.0 519.7 757.7 521.6 754.7 C523.5 751.7 527.8 748.0 529.5 745.5 C531.2 743.0 533.3 739.6 534.7 736.3 C536.1 733.0 538.9 725.3 540.0 720.5 C541.1 715.7 541.6 704.4 543.3 700.1 C545.0 695.6 550.6 690.5 552.9 686.6 C555.2 682.7 558.9 675.8 560.7 671.2 C562.5 666.6 564.9 656.8 566.4 651.9 C567.9 647.0 570.4 638.5 572.2 634.6 C574.0 630.7 578.1 626.3 579.9 623.0 C581.7 619.7 584.4 614.0 585.7 609.6 C587.0 605.2 588.6 594.9 589.6 590.3 C590.6 585.7 592.4 579.0 593.4 574.9 C594.4 570.8 596.1 563.6 597.3 559.5 C598.5 555.4 600.6 547.1 602.1 544.0 C603.6 540.9 607.4 539.1 608.8 536.3 C610.2 533.5 611.9 528.0 612.7 522.9 C613.5 517.8 614.1 502.9 614.6 497.8 C615.1 492.7 615.5 488.2 616.3 484.5 C617.1 480.8 619.7 474.2 620.5 470.4 C621.3 466.6 622.0 460.1 622.6 456.3 C623.2 452.5 624.3 445.9 624.8 442.2 C625.3 438.5 625.8 431.9 626.2 428.2 C626.6 424.5 627.0 416.5 627.6 414.1 C628.2 411.7 629.8 409.8 630.8 410.4 C631.8 411.0 634.2 420.6 635.0 418.3 C635.8 416.0 636.4 401.0 636.9 392.9 C637.4 384.8 638.4 364.9 639.0 357.8 C639.6 350.7 640.4 339.9 641.1 339.9 C641.8 339.9 643.2 350.7 643.9 357.8 C644.6 364.9 645.8 385.8 646.4 392.9 C647.0 400.0 648.1 410.7 648.7 411.3 C649.3 411.9 650.4 400.7 651.1 397.3 C651.8 393.9 653.0 384.6 653.8 385.5 C654.6 386.4 656.5 397.7 657.1 404.3 C657.7 410.9 658.1 428.3 658.5 435.2 C658.9 442.1 659.5 451.0 659.9 456.3 C660.3 461.6 660.7 470.7 661.3 474.6 C661.9 478.5 663.3 484.2 664.2 485.9 C664.9 487.2 667.7 486.0 668.4 487.3 C669.3 489.0 670.5 495.1 671.2 498.5 C671.9 501.9 673.1 509.2 674.0 512.6 C674.9 516.0 677.3 520.1 678.2 523.9 C679.1 527.7 680.4 536.7 681.1 540.8 C681.8 544.9 682.6 551.1 683.2 554.8 C683.8 558.5 684.8 564.7 685.3 568.9 C685.8 573.1 686.0 584.2 686.6 586.6 C687.5 589.8 690.1 590.9 691.8 593.2 C693.5 595.5 697.9 600.2 699.7 603.7 C701.5 607.2 703.8 614.6 705.0 619.5 C706.2 624.4 707.8 635.6 708.9 640.5 C710.0 645.4 711.5 653.8 712.9 656.3 C714.0 658.2 717.7 658.2 719.5 658.9 C721.3 659.6 724.5 659.8 726.1 661.6 C727.7 663.4 729.9 668.8 731.3 672.1 C732.7 675.4 735.0 684.1 736.6 686.6 C738.2 689.1 741.3 690.8 743.2 691.1 C745.1 691.4 749.2 688.6 751.1 689.2 C753.0 689.8 756.0 693.2 757.6 695.8 C759.2 698.4 761.5 706.6 762.9 708.9 C764.3 711.2 766.1 712.7 768.2 712.9 C770.3 713.1 776.4 709.8 778.7 710.3 C781.0 710.8 783.5 715.1 785.3 716.8 C787.1 718.5 790.7 723.4 792.4 723.4 C794.1 723.4 796.7 718.1 798.4 716.8 C800.1 715.5 803.2 713.4 805.0 713.4 C806.8 713.4 809.8 715.7 811.6 716.8 C813.4 717.9 816.5 721.6 818.2 721.6 C819.9 721.6 822.8 717.8 824.7 716.8 C826.6 715.8 830.8 714.1 832.6 713.9 C834.4 713.7 836.4 714.8 837.9 715.5 C839.4 716.2 841.9 719.2 843.7 718.9 C845.5 718.6 849.1 713.9 851.1 712.9 C853.1 711.9 857.2 711.1 858.9 711.1 C860.6 711.1 862.8 712.3 864.2 712.9 C865.6 713.5 867.9 716.0 869.5 715.5 C871.1 715.0 874.2 710.3 876.1 708.9 C878.0 707.5 882.2 705.2 883.9 705.0 C885.6 704.8 887.8 706.7 889.2 707.6 C890.6 708.5 892.7 712.3 894.5 711.6 C896.3 710.9 900.3 704.2 902.4 702.4 C904.5 700.6 908.6 697.9 910.3 697.9 C912.0 697.9 914.1 701.3 915.5 702.4 C916.9 703.5 919.0 707.0 920.8 705.8 C922.6 704.6 926.6 695.8 928.7 693.2 C930.8 690.6 934.9 686.6 936.6 686.6 C938.3 686.6 940.6 691.8 941.8 693.2 C943.0 694.6 944.0 698.7 945.8 697.1 C947.6 695.5 952.7 684.6 955.0 681.3 C957.3 678.0 961.1 672.3 962.9 672.1 C964.7 671.9 967.0 678.6 968.2 680.0 C969.4 681.4 970.9 684.5 972.1 682.6 C973.7 680.1 977.7 666.2 980.0 661.6 C982.3 657.0 987.3 648.9 989.2 648.4 C991.1 647.9 993.3 656.1 994.5 657.6 C995.7 659.1 997.6 661.0 998.4 659.5 C999.8 656.9 1003.6 642.9 1005.0 637.9 C1006.4 632.9 1007.5 625.3 1008.9 622.1 C1010.3 618.9 1013.9 613.5 1015.5 613.7 C1017.1 613.9 1019.7 621.9 1020.8 623.4 C1021.9 624.9 1022.8 626.8 1023.4 625.3 C1024.5 622.7 1027.5 610.1 1028.7 603.7 C1029.9 597.3 1031.4 582.8 1032.6 577.4 C1033.8 572.0 1036.7 565.2 1037.9 562.9 C1038.9 561.0 1040.9 559.6 1041.8 560.3 C1042.7 561.0 1043.5 566.7 1044.4 568.5 C1045.3 570.3 1047.6 574.5 1048.8 573.8 C1050.0 573.1 1052.3 567.8 1053.2 563.3 C1054.1 558.8 1055.1 546.3 1055.8 540.4 C1056.5 534.5 1057.6 525.0 1058.4 519.4 C1059.2 513.8 1061.0 502.5 1061.9 498.3 C1062.8 494.1 1064.7 489.4 1065.5 487.8 C1066.3 486.3 1067.2 484.6 1068.1 486.0 C1069.0 487.4 1071.6 496.0 1072.5 498.3 C1073.4 500.6 1074.3 504.5 1075.1 503.6 C1075.9 502.7 1077.8 495.8 1078.6 491.3 C1079.4 486.8 1080.7 475.1 1081.3 470.2 C1081.9 465.3 1082.2 457.4 1083.0 454.4 C1083.8 451.4 1086.3 450.0 1087.4 447.4 C1088.5 444.8 1090.0 437.4 1090.9 435.1 C1091.8 432.8 1093.6 428.6 1094.4 429.8 C1095.2 431.0 1096.3 439.9 1097.1 443.9 C1097.9 447.9 1099.7 458.8 1100.6 459.7 C1101.5 460.6 1103.2 453.5 1104.1 450.9 C1105.0 448.3 1106.7 440.2 1107.6 440.4 C1108.5 440.6 1110.2 449.4 1111.1 452.7 C1112.0 456.0 1113.3 463.8 1114.6 465.0 C1115.9 466.2 1119.4 460.7 1120.7 461.4 C1122.0 462.1 1123.4 467.9 1124.3 470.2 C1125.2 472.5 1126.6 477.6 1127.8 479.0 C1129.0 480.4 1132.1 479.2 1133.0 480.7 C1134.1 482.3 1135.1 487.6 1135.7 491.3 C1136.3 495.0 1136.7 504.6 1137.4 508.8 C1138.1 513.0 1139.6 520.3 1140.9 522.9 C1142.2 525.5 1145.6 526.0 1147.1 528.1 C1148.6 530.2 1150.9 535.9 1152.3 538.7 C1153.7 541.5 1156.5 546.2 1157.6 549.2 C1158.7 552.2 1159.5 558.0 1160.2 561.5 C1160.9 565.0 1162.1 572.2 1162.9 575.5 C1163.7 578.8 1165.0 584.0 1166.4 586.1 C1167.8 588.2 1171.5 589.4 1173.4 591.3 C1175.3 593.2 1178.9 597.8 1180.4 600.1 C1181.9 602.4 1183.7 606.1 1184.8 608.9 C1185.9 611.7 1187.5 618.7 1188.3 621.2 C1189.1 623.7 1189.9 626.6 1191.0 627.9 C1192.1 629.2 1194.8 629.7 1196.2 630.6 C1197.6 631.5 1200.1 633.3 1201.5 635.0 C1202.9 636.7 1205.3 641.1 1206.8 643.7 C1208.3 646.3 1211.4 652.5 1212.9 654.3 C1214.4 656.1 1216.7 656.7 1218.2 656.9 C1219.7 657.1 1222.8 655.7 1224.3 656.0 C1225.8 656.3 1228.0 658.0 1229.6 659.5 C1231.2 661.0 1234.7 665.5 1236.6 667.4 C1238.5 669.3 1241.7 672.9 1243.6 673.6 C1245.5 674.3 1248.7 672.4 1250.6 672.7 C1252.5 673.0 1255.5 674.9 1257.7 676.2 C1259.9 677.5 1265.0 682.1 1267.3 682.3 C1269.6 682.5 1273.2 678.5 1275.2 678.0 C1277.2 677.5 1280.3 678.2 1282.2 678.8 C1284.1 679.4 1287.4 682.5 1289.3 682.3 C1291.2 682.1 1294.4 678.5 1296.3 677.1 C1298.2 675.7 1301.4 672.3 1303.3 671.8 C1305.2 671.3 1308.4 673.8 1310.3 673.6 C1312.2 673.4 1315.5 671.7 1317.4 670.1 C1319.3 668.5 1322.5 663.6 1324.4 661.3 C1326.3 659.0 1329.5 653.8 1331.4 652.5 C1332.9 651.5 1337.0 652.3 1338.4 651.6 C1339.8 650.9 1340.8 649.2 1341.8 647.2 C1342.8 645.2 1345.0 640.0 1346.2 636.7 C1347.4 633.4 1349.3 625.0 1350.6 622.7 C1351.9 620.4 1354.5 619.3 1355.8 619.2 C1357.1 619.1 1358.9 622.2 1360.2 621.8 C1361.5 621.4 1364.2 619.2 1365.5 616.5 C1366.8 613.8 1368.7 605.9 1369.9 601.6 C1371.1 597.3 1373.5 586.8 1374.3 584.0 C1374.9 581.8 1375.2 581.9 1376.0 580.8 C1376.9 579.6 1380.0 575.4 1381.3 574.7 C1382.6 574.0 1384.4 576.3 1385.7 575.5 C1387.0 574.7 1389.6 571.5 1390.9 568.5 C1392.2 565.5 1394.1 557.4 1395.3 552.7 C1396.5 548.0 1398.5 538.1 1399.7 533.4 C1400.9 528.7 1402.8 519.9 1404.1 517.6 C1404.9 516.1 1408.2 515.9 1409.4 515.9 C1410.6 515.9 1411.7 518.5 1412.9 517.6 C1414.1 516.7 1416.7 512.1 1418.1 508.8 C1419.5 505.5 1422.2 497.4 1423.4 493.0 C1424.6 488.6 1426.2 479.5 1426.9 475.5 C1427.6 471.5 1428.0 465.3 1428.7 463.2 C1429.4 461.1 1431.0 459.0 1432.2 459.7 C1433.4 460.4 1436.1 468.7 1437.5 468.5 C1438.9 468.3 1441.3 459.4 1442.7 457.9 C1443.6 456.9 1446.8 457.3 1448.0 457.1 C1449.2 456.9 1451.0 457.2 1451.5 456.2 C1452.3 454.4 1453.3 446.0 1454.1 443.9 C1454.9 441.8 1456.4 439.7 1457.6 440.4 C1458.8 441.1 1461.4 448.3 1462.9 449.2 C1464.4 450.1 1467.8 446.2 1469.1 447.4 C1470.4 448.6 1471.4 455.6 1472.6 457.9 C1473.8 460.2 1476.4 465.7 1477.8 465.0 C1479.2 464.3 1481.7 454.1 1483.1 452.7 C1484.5 451.3 1486.9 454.6 1488.4 454.4 C1489.9 454.2 1493.1 450.0 1494.5 450.9 C1495.9 451.8 1497.7 458.9 1498.9 461.4 C1500.1 463.9 1502.0 470.0 1503.3 469.3 C1504.6 468.6 1507.0 457.9 1508.5 456.2 C1509.0 455.6 1513.2 456.7 1514.7 456.2 C1516.2 455.7 1518.6 452.0 1520.0 452.7 C1521.4 453.4 1524.0 459.5 1525.2 461.4 C1526.4 463.3 1527.6 466.2 1528.7 466.7 C1529.8 467.2 1532.1 465.6 1533.1 465.3 C1534.1 465.0 1535.7 464.3 1536.1 464.2"/>
<path stroke="#ff00ff" d="M201.3 48.4 C201.4 61.9 201.7 116.5 202.0 150.0 C202.3 183.5 202.7 268.6 203.3 300.0 C204.1 337.3 206.6 406.7 207.8 430.0 C209.0 452.9 211.2 462.6 212.2 474.5 C213.2 486.4 214.2 507.0 215.2 518.9 C216.2 530.8 218.4 552.3 219.6 563.4 C220.8 574.5 222.7 592.0 224.1 601.9 C225.5 611.8 228.4 628.0 230.0 637.5 C231.6 647.0 234.3 664.0 235.9 673.1 C237.5 682.2 240.3 697.8 241.9 705.7 C243.5 713.6 246.4 734.0 247.8 732.4 C249.2 730.8 250.7 696.6 252.3 693.8 C253.9 691.0 257.7 706.5 259.7 711.6 C261.7 716.7 264.9 727.3 267.1 732.4 C269.3 737.5 273.2 745.5 276.0 750.2 C278.8 754.9 284.6 763.8 287.8 767.9 C291.0 772.0 296.5 778.3 299.7 781.3 C302.9 784.3 308.6 788.5 311.5 790.2 C314.4 791.9 319.6 793.2 321.6 794.2 C323.6 795.2 325.2 797.2 326.8 797.4 C328.4 797.6 331.8 795.6 333.4 795.5 C335.0 795.4 337.3 796.3 338.7 796.8 C340.1 797.3 343.6 800.5 343.9 798.9 C344.3 796.8 344.3 774.3 344.7 765.3 C345.1 756.3 345.6 735.0 346.6 731.1 C346.8 730.2 351.1 730.6 353.2 730.5 C355.3 730.4 360.3 729.9 362.4 730.5 C364.5 731.1 367.2 733.7 368.9 735.0 C370.6 736.3 373.7 740.1 375.5 740.3 C377.3 740.5 380.3 737.6 382.1 736.8 C383.9 736.0 386.9 734.4 388.7 734.2 C390.5 734.0 393.6 734.5 395.3 735.0 C397.0 735.5 400.1 738.2 401.8 737.6 C403.5 737.0 406.6 732.3 408.4 730.5 C410.2 728.7 413.4 725.0 415.0 723.9 C416.6 722.8 418.7 722.5 420.3 722.6 C421.9 722.7 425.1 725.1 426.8 724.5 C428.5 723.9 431.8 720.2 433.4 717.9 C435.0 715.6 437.8 710.9 438.7 707.4 C439.6 704.1 440.3 692.6 440.5 691.6 C440.5 691.6 440.5 700.1 440.5 700.1 C440.6 698.7 440.9 684.4 441.2 680.8 C441.7 675.9 442.8 666.6 444.1 663.5 C445.4 660.4 449.6 660.3 450.8 657.7 C451.8 655.5 451.8 646.4 452.8 644.2 C453.8 641.9 456.7 641.2 458.5 640.4 C460.3 639.6 464.9 640.0 466.2 638.5 C467.7 636.7 468.6 629.7 470.1 626.9 C471.6 624.1 476.0 619.6 477.8 617.3 C479.6 615.0 482.6 612.4 483.6 609.6 C484.6 607.0 484.6 597.6 485.5 596.1 C486.5 594.5 491.1 595.6 493.2 594.1 C495.3 592.6 498.8 587.1 500.9 584.5 C503.0 581.9 506.9 577.7 508.6 574.9 C510.3 572.1 511.9 565.6 513.4 563.3 C514.9 561.0 518.7 560.1 520.2 557.5 C521.7 554.9 524.1 547.3 525.0 544.0 C525.9 540.7 526.0 535.6 526.9 532.5 C527.8 529.4 530.6 524.0 531.8 520.9 C533.0 517.8 534.1 511.2 535.6 509.4 C537.0 507.8 541.8 509.0 543.3 507.4 C545.0 505.6 546.8 499.2 548.1 495.9 C549.4 492.6 551.5 485.7 552.9 482.4 C554.3 479.1 557.3 473.2 558.7 470.8 C560.1 468.4 562.0 465.1 563.5 464.1 C565.0 463.1 569.4 464.2 570.3 463.1 C571.7 461.4 573.3 454.7 574.1 451.6 C574.9 448.5 575.4 443.6 576.1 440.0 C576.8 436.4 578.1 428.2 579.2 424.5 C580.3 420.8 583.2 415.0 584.4 412.2 C585.6 409.4 587.0 404.9 587.9 403.4 C588.8 401.9 590.2 400.9 591.4 400.8 C592.6 400.7 595.7 403.9 596.7 402.5 C597.8 401.0 598.7 393.5 599.3 389.4 C599.9 385.3 600.6 376.3 601.1 371.8 C601.6 367.3 602.0 359.0 602.8 356.0 C603.6 353.0 606.1 350.6 607.2 349.0 C608.3 347.4 610.0 346.5 610.7 343.7 C611.4 340.9 611.9 331.4 612.5 327.9 C613.1 324.4 614.4 317.4 615.1 317.4 C615.8 317.4 617.2 324.6 617.8 327.9 C618.4 331.2 618.8 339.9 619.5 342.0 C620.0 343.4 622.3 345.1 623.0 343.7 C623.8 342.1 625.2 334.4 625.7 329.7 C626.1 325.7 626.2 313.3 626.5 308.6 C626.8 303.9 627.6 296.7 628.3 294.6 C628.8 293.1 630.9 291.4 631.8 292.8 C632.7 294.2 634.5 305.1 635.3 305.1 C636.1 305.1 637.2 294.7 638.0 292.8 C638.6 291.4 640.7 289.7 641.5 291.1 C642.3 292.5 643.5 299.4 644.1 303.4 C644.7 307.4 645.4 316.7 645.9 320.9 C646.4 325.1 646.9 333.8 647.6 335.0 C648.3 336.2 650.4 332.9 651.1 329.7 C651.8 326.4 652.4 314.7 652.9 310.4 C653.4 306.1 653.9 298.6 654.6 297.2 C655.3 295.8 657.5 297.9 658.1 299.8 C658.9 302.3 659.7 313.3 660.8 315.6 C661.5 317.1 665.0 315.9 666.0 317.4 C667.1 319.0 668.1 324.4 668.7 327.9 C669.3 331.4 669.8 339.7 670.4 343.7 C671.0 347.7 672.4 356.4 673.1 357.8 C673.8 359.2 674.9 356.2 675.7 354.3 C676.5 352.4 678.3 344.6 679.2 343.7 C680.1 342.8 681.9 344.8 682.7 347.2 C683.5 349.8 684.5 359.7 685.4 363.0 C686.3 366.3 688.5 369.7 689.7 371.8 C690.9 373.9 693.2 376.0 694.1 378.8 C695.0 381.6 695.9 389.6 696.8 392.9 C697.7 396.2 699.9 402.1 701.2 403.4 C702.2 404.4 705.2 401.6 706.4 402.5 C707.6 403.4 709.1 407.9 709.9 410.4 C710.7 412.9 711.5 418.7 712.6 421.0 C713.7 423.3 716.5 425.9 717.8 428.0 C719.1 430.1 721.1 434.5 722.2 436.8 C723.3 439.1 724.5 444.1 725.7 445.5 C726.9 446.9 729.8 448.2 731.0 447.3 C732.2 446.4 733.4 439.1 734.5 438.5 C735.6 437.9 737.5 441.0 738.9 442.9 C740.3 444.8 743.4 450.0 745.0 452.6 C746.6 455.2 750.0 462.4 751.2 462.2 C752.4 462.0 753.0 453.1 753.8 450.8 C754.6 448.5 756.2 445.2 757.3 444.7 C758.4 444.2 760.2 445.8 761.7 447.3 C763.2 448.8 766.6 454.0 768.7 456.1 C770.8 458.2 775.6 462.9 777.5 463.1 C779.4 463.3 781.5 459.9 782.8 457.8 C784.1 455.7 786.0 449.9 787.2 447.3 C788.4 444.7 790.6 440.0 791.6 438.5 C792.6 437.0 793.3 435.5 794.4 435.9 C795.5 436.3 798.4 439.6 799.7 441.2 C801.0 442.8 802.6 448.7 804.0 448.2 C805.4 447.7 808.6 439.2 810.2 437.6 C811.7 436.1 814.8 436.2 816.3 435.9 C817.8 435.6 820.3 434.4 821.6 435.0 C822.9 435.6 824.9 439.2 826.0 440.3 C827.1 441.4 828.4 443.8 829.5 442.9 C830.6 442.0 832.7 435.8 833.9 433.3 C835.1 430.8 837.1 426.6 838.3 424.5 C839.5 422.4 841.6 418.9 842.7 417.5 C843.8 416.1 845.1 414.0 846.2 413.9 C847.3 413.8 849.5 415.7 850.6 416.6 C851.7 417.5 853.2 421.1 854.1 421.0 C855.0 420.9 857.0 418.9 857.6 415.7 C858.3 412.0 858.8 399.5 859.3 392.9 C859.8 386.3 860.7 372.6 861.1 366.5 C861.5 360.4 861.7 350.1 862.3 347.2 C862.7 345.3 864.6 344.6 865.5 344.6 C866.4 344.6 868.2 348.5 869.0 347.2 C869.8 345.9 870.9 337.5 871.6 335.0 C872.3 332.5 873.5 328.3 874.3 328.8 C875.1 329.3 877.0 336.5 877.8 338.5 C878.6 340.5 879.6 344.6 880.4 343.7 C881.2 342.8 883.0 334.3 883.9 331.4 C884.8 328.5 886.5 321.3 887.4 321.8 C888.3 322.3 890.1 332.4 890.9 335.0 C891.7 337.6 892.8 342.3 893.6 341.1 C894.4 339.9 896.2 329.6 897.1 326.2 C898.0 322.8 899.7 315.1 900.6 315.6 C901.5 316.1 903.3 327.1 904.1 329.7 C904.9 332.3 905.9 336.4 906.7 335.0 C907.5 333.6 909.4 322.5 910.2 319.2 C911.0 315.9 912.1 309.2 912.9 310.4 C913.7 311.6 915.5 324.3 916.4 327.9 C917.3 331.5 919.0 338.1 919.9 337.6 C920.8 337.1 922.5 326.9 923.4 324.4 C924.3 321.9 926.0 319.0 926.9 319.2 C927.8 319.4 929.6 325.0 930.4 326.2 C931.2 327.4 932.3 329.0 933.1 327.9 C933.9 326.8 935.8 320.0 936.6 318.3 C937.4 316.6 938.4 313.3 939.2 314.8 C940.0 316.3 941.8 326.3 942.7 329.7 C943.6 333.1 945.3 340.2 946.2 340.2 C947.1 340.2 948.8 331.6 949.7 329.7 C950.6 327.8 952.4 325.7 953.3 326.2 C954.2 326.7 956.0 331.9 956.8 333.2 C957.6 334.5 958.6 336.5 959.4 335.8 C960.2 335.1 962.1 329.3 962.9 327.9 C963.7 326.5 964.7 323.7 965.5 325.3 C966.3 326.9 968.2 336.9 969.1 340.2 C970.0 343.5 971.7 349.7 972.6 349.9 C973.5 350.1 975.2 343.4 976.1 342.0 C977.0 340.6 978.7 338.8 979.6 339.3 C980.5 339.8 982.3 344.3 983.1 345.5 C983.9 346.7 984.9 348.7 985.7 348.1 C986.5 347.5 988.4 342.2 989.2 341.1 C990.0 340.1 991.4 339.1 991.9 340.2 C992.7 342.0 994.6 351.5 995.4 354.3 C996.2 357.1 997.1 361.4 998.0 361.3 C998.9 361.2 1001.3 354.7 1002.4 353.4 C1003.5 352.1 1005.0 351.4 1005.9 351.6 C1006.8 351.8 1008.6 354.5 1009.4 355.1 C1010.2 355.7 1011.4 356.5 1012.1 356.0 C1012.8 355.5 1014.0 352.2 1014.7 351.6 C1015.4 351.0 1016.9 350.6 1017.3 351.3 C1018.1 352.8 1019.9 360.6 1020.8 363.0 C1021.7 365.4 1023.2 369.3 1024.3 369.2 C1025.4 369.1 1027.6 363.4 1028.7 362.2 C1029.8 361.0 1031.0 360.3 1032.2 360.4 C1033.4 360.5 1036.1 362.8 1037.5 363.0 C1038.9 363.2 1041.7 361.2 1042.8 362.2 C1044.0 363.3 1045.2 368.7 1046.3 370.9 C1047.4 373.1 1049.5 378.4 1050.7 378.5 C1051.9 378.6 1054.0 373.0 1055.1 371.8 C1056.2 370.6 1057.4 369.3 1058.6 369.2 C1059.8 369.1 1062.4 370.8 1063.8 370.9 C1065.2 371.0 1067.9 368.6 1069.1 369.7 C1070.3 370.8 1071.7 376.9 1072.6 378.8 C1073.5 380.7 1075.1 383.9 1076.1 383.8 C1077.1 383.7 1079.0 379.3 1080.0 377.7 C1081.0 376.1 1082.5 372.6 1083.7 371.9 C1084.9 371.2 1087.3 372.6 1088.8 372.6 C1090.3 372.6 1093.5 370.9 1094.6 371.9 C1095.9 373.0 1097.2 378.4 1098.3 380.6 C1099.4 382.8 1101.5 388.7 1102.7 388.7 C1103.9 388.7 1105.8 381.9 1107.0 380.6 C1108.2 379.3 1110.2 379.6 1111.4 379.2 C1112.6 378.8 1114.6 378.1 1115.8 377.7 C1117.0 377.3 1119.1 375.5 1120.2 376.3 C1121.3 377.1 1122.8 381.9 1123.9 383.6 C1125.0 385.3 1126.9 389.6 1128.2 389.4 C1129.5 389.2 1132.0 383.2 1133.4 382.1 C1134.6 381.1 1137.2 382.2 1138.5 381.4 C1139.8 380.6 1141.8 377.3 1142.9 376.3 C1144.0 375.3 1145.5 373.5 1146.5 374.1 C1147.5 374.7 1149.2 378.9 1150.2 380.6 C1151.2 382.3 1152.6 386.4 1153.8 386.5 C1155.0 386.6 1157.4 382.2 1158.9 381.4 C1160.4 380.6 1163.4 381.6 1164.8 380.6 C1166.2 379.6 1168.1 375.4 1169.2 374.1 C1170.3 372.8 1171.8 370.6 1172.8 371.1 C1173.8 371.6 1175.4 376.1 1176.5 377.7 C1177.6 379.3 1179.7 382.6 1180.9 382.8 C1182.1 383.0 1183.9 379.5 1185.3 379.2 C1186.7 378.9 1189.7 381.6 1191.1 380.6 C1192.5 379.6 1194.4 373.7 1195.5 371.9 C1196.6 370.1 1198.2 366.4 1199.2 366.8 C1200.2 367.2 1201.8 373.1 1202.8 374.8 C1203.8 376.5 1205.3 379.8 1206.5 379.9 C1207.7 380.0 1210.2 375.8 1211.6 375.5 C1213.0 375.2 1215.4 378.8 1216.7 377.7 C1218.0 376.6 1220.0 369.4 1221.1 367.5 C1222.2 365.6 1223.6 362.3 1224.7 363.1 C1225.8 363.9 1227.9 371.2 1229.1 373.3 C1230.3 375.4 1232.3 378.2 1233.5 379.2 C1234.7 380.2 1236.7 379.6 1237.9 380.6 C1239.1 381.6 1241.1 386.9 1242.3 386.5 C1243.5 386.1 1245.7 379.8 1246.7 377.7 C1247.7 375.6 1248.8 371.6 1249.6 370.4 C1250.4 369.2 1251.5 368.1 1252.5 368.9 C1253.5 369.7 1255.5 374.2 1256.9 376.3 C1258.3 378.4 1261.1 382.6 1262.7 385.0 C1264.3 387.4 1267.2 394.5 1268.6 394.5 C1270.0 394.5 1271.9 387.6 1273.0 385.0 C1274.1 382.4 1275.7 376.4 1276.6 374.8 C1277.4 373.3 1278.5 372.4 1279.6 373.0 C1280.7 373.6 1283.2 376.8 1284.7 379.2 C1286.2 381.6 1289.0 388.2 1290.5 390.9 C1292.0 393.6 1294.3 399.8 1295.6 399.6 C1296.9 399.4 1298.9 392.3 1300.0 389.4 C1301.1 386.5 1302.7 379.7 1303.7 377.7 C1304.7 375.7 1306.5 374.3 1307.3 374.1 C1308.1 373.9 1309.2 374.6 1310.0 376.3 C1310.9 378.3 1313.3 386.5 1314.4 389.4 C1315.5 392.3 1317.0 396.7 1318.0 398.2 C1319.0 399.7 1320.7 401.6 1321.7 400.8 C1322.7 400.0 1324.5 395.2 1325.4 392.3 C1326.3 389.4 1327.5 381.7 1328.3 379.2 C1329.1 376.7 1330.4 374.3 1331.2 373.3 C1332.0 372.3 1333.2 371.5 1334.1 371.9 C1335.0 372.3 1336.7 374.2 1337.8 376.3 C1338.9 378.4 1341.1 385.3 1342.2 388.0 C1343.3 390.7 1345.0 395.3 1345.8 396.7 C1346.6 398.1 1347.5 399.3 1348.3 398.5 C1349.1 397.7 1350.9 393.9 1351.7 390.9 C1352.5 387.9 1353.9 379.3 1354.6 376.3 C1355.3 373.3 1356.1 369.6 1356.8 368.2 C1357.5 366.8 1358.8 365.8 1359.7 366.0 C1360.6 366.2 1362.3 367.9 1363.4 369.7 C1364.5 371.5 1366.6 377.1 1367.7 379.2 C1368.8 381.3 1370.5 384.8 1371.4 385.8 C1372.3 386.8 1373.3 387.5 1374.3 386.8 C1375.3 386.1 1377.8 383.0 1378.7 380.6 C1379.6 378.2 1380.3 371.5 1380.9 368.9 C1381.5 366.3 1382.4 362.3 1383.1 360.9 C1383.8 359.5 1385.1 358.6 1386.0 358.7 C1386.9 358.8 1388.6 360.0 1389.7 361.6 C1390.8 363.2 1393.0 368.4 1394.1 370.4 C1395.2 372.4 1396.8 375.4 1397.7 376.3 C1398.6 377.2 1399.6 377.6 1400.6 377.0 C1401.6 376.4 1404.1 374.0 1405.0 371.9 C1405.9 369.8 1406.6 363.7 1407.2 361.6 C1407.8 359.5 1408.7 356.8 1409.4 355.8 C1410.1 354.8 1411.4 353.8 1412.3 354.0 C1413.2 354.2 1414.9 355.9 1416.0 357.3 C1417.1 358.7 1419.3 362.9 1420.4 364.6 C1421.5 366.3 1423.0 369.5 1424.0 370.4 C1425.0 371.3 1426.7 371.7 1427.7 371.1 C1428.7 370.5 1430.5 367.8 1431.3 366.0 C1432.1 364.2 1432.8 358.9 1433.5 357.3 C1434.2 355.7 1435.5 354.1 1436.5 354.0 C1437.5 353.9 1439.5 355.3 1440.8 356.5 C1442.1 357.7 1444.8 361.6 1446.0 363.1 C1447.2 364.6 1448.6 366.8 1449.6 367.5 C1450.6 368.2 1452.3 368.8 1453.3 368.2 C1454.3 367.6 1456.0 364.4 1456.9 363.1 C1457.8 361.8 1459.1 359.4 1459.9 358.7 C1460.7 358.0 1461.7 357.7 1462.8 358.0 C1463.9 358.3 1466.6 360.0 1467.9 360.9 C1469.2 361.8 1471.1 363.5 1472.3 364.6 C1473.5 365.7 1475.6 368.3 1476.7 368.9 C1477.8 369.5 1479.2 369.5 1480.3 368.9 C1481.4 368.3 1483.7 365.4 1484.7 364.6 C1485.7 363.8 1486.5 362.6 1487.6 362.8 C1488.7 363.0 1491.2 365.4 1492.7 366.0 C1494.2 366.6 1497.2 366.7 1498.6 367.5 C1500.0 368.3 1501.9 371.1 1503.0 371.9 C1504.1 372.7 1505.6 373.8 1506.6 373.6 C1507.6 373.4 1509.3 370.9 1510.3 370.4 C1511.3 369.9 1512.9 369.7 1513.9 370.1 C1514.9 370.5 1516.6 372.9 1517.6 373.3 C1518.6 373.7 1520.3 373.5 1521.3 373.3 C1522.3 373.1 1523.9 371.8 1524.9 371.9 C1525.9 372.0 1527.7 373.4 1528.6 374.1 C1529.5 374.8 1531.5 377.0 1531.9 377.4"/>
</g>
<text class="tk" transform="translate(196.4,1265.3) scale(0.94,1)" text-anchor="middle">0</text>
<text class="tk" transform="translate(379.5,1265.3) scale(0.94,1)" text-anchor="middle">10</text>
<text class="tk" transform="translate(564,1265.3) scale(0.94,1)" text-anchor="middle">20</text>
<text class="tk" transform="translate(748.6,1265.3) scale(0.94,1)" text-anchor="middle">30</text>
<text class="tk" transform="translate(933,1265.3) scale(0.94,1)" text-anchor="middle">40</text>
<text class="tk" transform="translate(1118,1265.3) scale(0.94,1)" text-anchor="middle">50</text>
<text class="tk" transform="translate(1303,1265.3) scale(0.94,1)" text-anchor="middle">60</text>
<text class="tk" transform="translate(1488,1265.3) scale(0.94,1)" text-anchor="middle">70</text>
<text class="tk" transform="translate(1672,1265.3) scale(0.94,1)" text-anchor="middle">80</text>
<text class="tk" transform="translate(112.0,54.9) scale(0.94,1)">10</text>
<text class="ex" transform="translate(162.3,39.0) scale(0.94,1)">0</text>
<text class="tk" transform="translate(98.6,443.2) scale(0.94,1)">10</text>
<text class="ex" transform="translate(150,422.7) scale(0.94,1)">-1</text>
<text class="tk" transform="translate(98.6,834.0) scale(0.94,1)">10</text>
<text class="ex" transform="translate(150,815.0) scale(0.94,1)">-2</text>
<text class="tk" transform="translate(98.6,1221.5) scale(0.94,1)">10</text>
<text class="ex" transform="translate(150,1201.8) scale(0.94,1)">-3</text>
<text class="lb" font-size="40.6" x="917.5" y="1325.8" text-anchor="middle">time(h)</text>
<text class="lb" font-size="40.8" transform="translate(58,698.3) rotate(-90)" text-anchor="middle">Degree of Obervability</text>
<g id="legend" shape-rendering="crispEdges">
<rect x="1093.2" y="854.7" width="477.4" height="275.1" fill="#fff" stroke="#262626" stroke-width="3.1"/>
<line x1="1106" y1="892.6" x2="1244.2" y2="892.6" stroke="#000000" stroke-width="10"/>
<text class="lg" x="1254" y="891.4">UKF</text>
<line x1="1106" y1="958.6" x2="1244.2" y2="958.6" stroke="#ff0000" stroke-width="10"/>
<text class="lg" x="1254" y="957.4">TCQUE</text>
<line x1="1106" y1="1024.7" x2="1244.2" y2="1024.7" stroke="#0000ff" stroke-width="10"/>
<text class="lg" x="1254" y="1023.5">SH-TCQUE</text>
<line x1="1106" y1="1090.7" x2="1244.2" y2="1090.7" stroke="#ff00ff" stroke-width="10"/>
<text class="lg" x="1254" y="1089.5">MA-TCQUE</text>
</g>
</svg></body></html>
